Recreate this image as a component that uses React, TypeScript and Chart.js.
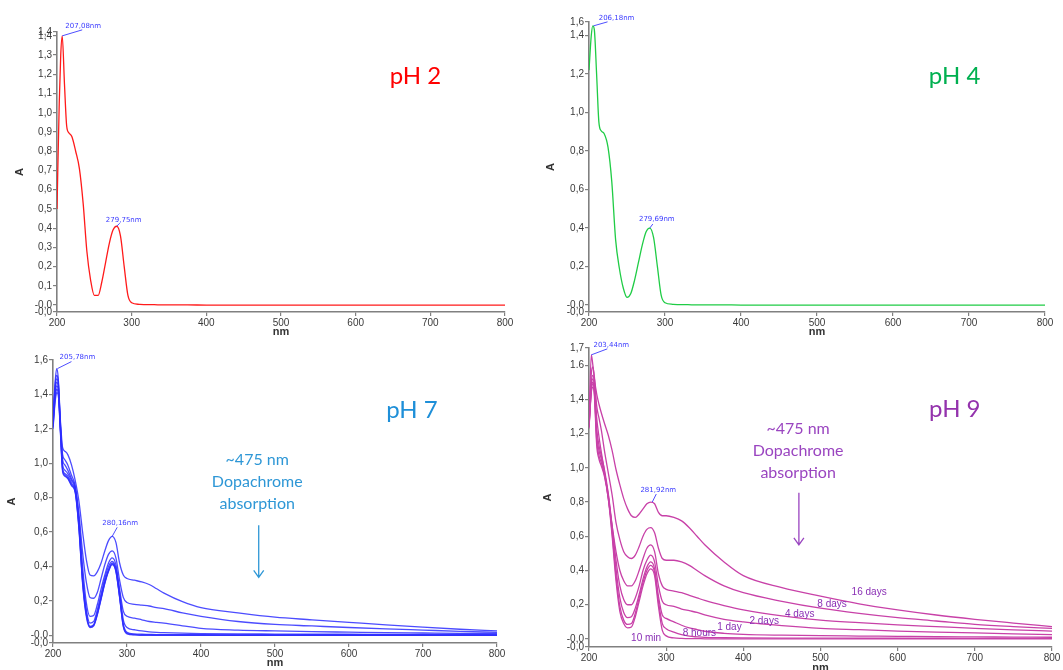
import React, { useEffect, useRef } from 'react';
import { Chart, registerables } from 'chart.js';

Chart.register(...registerables);

// ---------- DATA ----------
const WAVELENGTHS = [200, 203, 205, 207, 210, 213, 216, 220, 225, 230, 235, 240, 245, 250, 255, 260, 265, 270, 275, 280, 285, 290, 295, 300, 310, 320, 330, 340, 350, 375, 400, 450, 500, 550, 600, 650, 700, 750, 800];
const X_TICKS = [200, 300, 400, 500, 600, 700, 800];

const PH2_A = [0.50, 1.05, 1.30, 1.40, 1.15, 0.93, 0.895, 0.875, 0.80, 0.71, 0.53, 0.28, 0.13, 0.05, 0.05, 0.12, 0.22, 0.32, 0.39, 0.41, 0.36, 0.20, 0.05, 0.012, 0.004, 0.002, 0.002, 0.001, 0.001, 0.001, 0, 0, 0, 0, 0, 0, 0, 0, 0];
const PH4_A = [1.22, 1.40, 1.45, 1.43, 1.20, 0.95, 0.905, 0.89, 0.82, 0.64, 0.34, 0.19, 0.09, 0.04, 0.06, 0.13, 0.22, 0.31, 0.38, 0.40, 0.35, 0.20, 0.05, 0.012, 0.004, 0.002, 0.002, 0.001, 0.001, 0.001, 0, 0, 0, 0, 0, 0, 0, 0, 0];

const PH7_1 = [1.20, 1.36, 1.41, 1.40, 1.18, 0.95, 0.925, 0.91, 0.87, 0.83, 0.62, 0.30, 0.11, 0.045, 0.055, 0.12, 0.21, 0.30, 0.37, 0.41, 0.37, 0.22, 0.05, 0.008, 0.002, 0, 0, 0, 0, 0, 0, 0, 0, 0, 0, 0, 0, 0, 0];
const PH7_2 = [1.21, 1.38, 1.43, 1.41, 1.19, 0.96, 0.93, 0.915, 0.875, 0.835, 0.63, 0.31, 0.12, 0.048, 0.058, 0.125, 0.215, 0.305, 0.375, 0.415, 0.375, 0.225, 0.055, 0.012, 0.004, 0.002, 0.002, 0.001, 0.001, 0.001, 0.001, 0, 0, 0, 0, 0, 0, 0, 0];
const PH7_3 = [1.22, 1.40, 1.45, 1.43, 1.20, 0.97, 0.94, 0.925, 0.885, 0.84, 0.64, 0.32, 0.13, 0.052, 0.062, 0.13, 0.22, 0.31, 0.38, 0.42, 0.38, 0.23, 0.065, 0.018, 0.008, 0.006, 0.005, 0.004, 0.004, 0.003, 0.003, 0.002, 0.002, 0.002, 0.002, 0.001, 0.001, 0.001, 0.001];
const PH7_4 = [1.23, 1.42, 1.47, 1.45, 1.21, 0.99, 0.96, 0.94, 0.90, 0.85, 0.66, 0.35, 0.15, 0.07, 0.08, 0.15, 0.24, 0.33, 0.40, 0.43, 0.39, 0.25, 0.09, 0.045, 0.032, 0.025, 0.02, 0.017, 0.015, 0.012, 0.01, 0.008, 0.007, 0.006, 0.006, 0.005, 0.005, 0.005, 0.005];
const PH7_5 = [1.24, 1.44, 1.49, 1.47, 1.22, 1.02, 0.99, 0.96, 0.91, 0.86, 0.68, 0.40, 0.19, 0.11, 0.115, 0.18, 0.27, 0.35, 0.42, 0.45, 0.41, 0.27, 0.14, 0.11, 0.10, 0.09, 0.08, 0.075, 0.07, 0.055, 0.04, 0.03, 0.025, 0.021, 0.018, 0.015, 0.013, 0.011, 0.01];
const PH7_6 = [1.25, 1.46, 1.51, 1.48, 1.23, 1.05, 1.02, 0.99, 0.93, 0.87, 0.71, 0.48, 0.31, 0.22, 0.215, 0.25, 0.33, 0.41, 0.47, 0.49, 0.45, 0.32, 0.22, 0.19, 0.18, 0.175, 0.17, 0.16, 0.155, 0.13, 0.11, 0.08, 0.063, 0.054, 0.045, 0.037, 0.03, 0.023, 0.017];
const PH7_7 = [1.26, 1.48, 1.55, 1.50, 1.25, 1.09, 1.07, 1.05, 0.99, 0.90, 0.78, 0.60, 0.44, 0.35, 0.345, 0.37, 0.42, 0.49, 0.55, 0.575, 0.54, 0.42, 0.35, 0.33, 0.32, 0.31, 0.295, 0.27, 0.245, 0.195, 0.16, 0.13, 0.105, 0.09, 0.075, 0.06, 0.047, 0.035, 0.025];

const PH9_10MIN = [1.23, 1.44, 1.47, 1.42, 1.13, 1.05, 1.01, 0.95, 0.82, 0.60, 0.34, 0.16, 0.09, 0.065, 0.07, 0.13, 0.22, 0.31, 0.38, 0.41, 0.37, 0.19, 0.05, 0.018, 0.006, 0.003, 0.002, 0.002, 0.001, 0.001, 0.001, 0, 0, 0, 0, 0, 0, 0, 0];
const PH9_8H = [1.24, 1.45, 1.49, 1.44, 1.16, 1.07, 1.03, 0.96, 0.83, 0.62, 0.37, 0.19, 0.11, 0.085, 0.09, 0.15, 0.24, 0.33, 0.40, 0.43, 0.39, 0.22, 0.09, 0.06, 0.04, 0.025, 0.016, 0.012, 0.009, 0.007, 0.006, 0.005, 0.005, 0.004, 0.004, 0.003, 0.003, 0.003, 0.003];
const PH9_1D = [1.24, 1.46, 1.50, 1.45, 1.19, 1.10, 1.05, 0.97, 0.84, 0.64, 0.41, 0.24, 0.155, 0.125, 0.13, 0.18, 0.26, 0.35, 0.42, 0.45, 0.41, 0.25, 0.14, 0.12, 0.10, 0.08, 0.065, 0.055, 0.045, 0.033, 0.027, 0.022, 0.019, 0.017, 0.015, 0.013, 0.012, 0.011, 0.01];
const PH9_2D = [1.25, 1.48, 1.52, 1.47, 1.23, 1.13, 1.07, 0.99, 0.85, 0.66, 0.46, 0.31, 0.23, 0.20, 0.20, 0.24, 0.31, 0.40, 0.46, 0.49, 0.45, 0.31, 0.22, 0.20, 0.19, 0.175, 0.165, 0.155, 0.14, 0.115, 0.10, 0.078, 0.062, 0.054, 0.046, 0.04, 0.035, 0.03, 0.025];
const PH9_4D = [1.25, 1.50, 1.54, 1.49, 1.29, 1.18, 1.09, 0.98, 0.82, 0.66, 0.51, 0.40, 0.34, 0.31, 0.31, 0.34, 0.40, 0.47, 0.53, 0.55, 0.51, 0.38, 0.31, 0.29, 0.28, 0.27, 0.255, 0.24, 0.225, 0.195, 0.17, 0.135, 0.11, 0.095, 0.082, 0.072, 0.062, 0.053, 0.046];
const PH9_8D = [1.26, 1.55, 1.59, 1.53, 1.36, 1.29, 1.22, 1.10, 0.97, 0.84, 0.68, 0.58, 0.51, 0.48, 0.47, 0.49, 0.54, 0.60, 0.64, 0.65, 0.62, 0.53, 0.47, 0.46, 0.46, 0.45, 0.43, 0.40, 0.37, 0.31, 0.27, 0.22, 0.18, 0.15, 0.125, 0.105, 0.085, 0.072, 0.062];
const PH9_16D = [1.26, 1.66, 1.60, 1.52, 1.43, 1.37, 1.32, 1.26, 1.19, 1.10, 0.99, 0.90, 0.82, 0.76, 0.72, 0.71, 0.73, 0.76, 0.79, 0.80, 0.79, 0.74, 0.72, 0.72, 0.71, 0.69, 0.65, 0.60, 0.55, 0.45, 0.37, 0.30, 0.25, 0.205, 0.17, 0.14, 0.115, 0.093, 0.072];
const PH9_LABELS = ['10 min', '8 hours', '1 day', '2 days', '4 days', '8 days', '16 days'];

const PH2_Y_TICKS = [-0.036, 0, 0.1, 0.2, 0.3, 0.4, 0.5, 0.6, 0.7, 0.8, 0.9, 1.0, 1.1, 1.2, 1.3, 1.4, 1.42];
const PH2_Y_LABELS = ['-0,0', '-0,0', '0,1', '0,2', '0,3', '0,4', '0,5', '0,6', '0,7', '0,8', '0,9', '1,0', '1,1', '1,2', '1,3', '1,4', '1,4'];
const PH4_Y_TICKS = [-0.036, 0, 0.2, 0.4, 0.6, 0.8, 1.0, 1.2, 1.4, 1.47];
const PH4_Y_LABELS = ['-0,0', '-0,0', '0,2', '0,4', '0,6', '0,8', '1,0', '1,2', '1,4', '1,6'];
const PH7_Y_TICKS = [-0.045, 0, 0.2, 0.4, 0.6, 0.8, 1.0, 1.2, 1.4, 1.6];
const PH7_Y_LABELS = ['-0,0', '-0,0', '0,2', '0,4', '0,6', '0,8', '1,0', '1,2', '1,4', '1,6'];
const PH9_Y_TICKS = [-0.047, 0, 0.2, 0.4, 0.6, 0.8, 1.0, 1.2, 1.4, 1.6, 1.7];
const PH9_Y_LABELS = ['-0,0', '-0,0', '0,2', '0,4', '0,6', '0,8', '1,0', '1,2', '1,4', '1.6', '1,7'];

// ---------- STYLE / LAYOUT ----------
const PEAK_COLOR = '#3a3aff';
const AXIS_COLOR = '#808080';
const TICK_COLOR = '#3a3a3a';

type Peak = { nm: number; a: number; text: string; tdx: number; tdy: number; ldx: number; ldy: number };
type Note = { nm: number; a: number; lines: string[]; color: string; arrowNm: number; arrowFrom: number; arrowTo: number };
type CurveLabel = { nm: number; a: number; text: string };
type PanelCfg = {
  key: string;
  box: { left: number; top: number; width: number; height: number };
  plot: { left: number; top: number; right: number; bottom: number };
  yMin: number; yMax: number; yTicks: number[]; yLabels: string[];
  series: number[][]; color: string;
  title: string; titleColor: string; titleNm: number; titleA: number;
  peaks: Peak[];
  yTitlePad: number; xTitlePad: number;
  note?: Note;
  curveLabels?: CurveLabel[];
  curveLabelColor?: string;
};

const PANELS: PanelCfg[] = [
  {
    key: 'ph2',
    box: { left: 0, top: 0, width: 525, height: 340 },
    plot: { left: 57, top: 32, right: 505, bottom: 312 },
    yMin: -0.036, yMax: 1.42, yTicks: PH2_Y_TICKS, yLabels: PH2_Y_LABELS,
    series: [PH2_A], color: '#ff1a1a',
    title: 'pH 2', titleColor: '#ff0000', titleNm: 680, titleA: 1.19,
    peaks: [
      { nm: 207, a: 1.40, text: '207,08nm', tdx: 21, tdy: -10, ldx: 20, ldy: -6 },
      { nm: 280, a: 0.41, text: '279,75nm', tdx: 7, tdy: -6, ldx: 3, ldy: -3 },
    ],
    yTitlePad: 13.4, xTitlePad: 1.2,
  },
  {
    key: 'ph4',
    box: { left: 540, top: 0, width: 523, height: 340 },
    plot: { left: 589, top: 22, right: 1045, bottom: 312 },
    yMin: -0.036, yMax: 1.47, yTicks: PH4_Y_TICKS, yLabels: PH4_Y_LABELS,
    series: [PH4_A], color: '#1fcc45',
    title: 'pH 4', titleColor: '#00b050', titleNm: 681, titleA: 1.19,
    peaks: [
      { nm: 206, a: 1.45, text: '206,18nm', tdx: 23, tdy: -8, ldx: 14, ldy: -4 },
      { nm: 280, a: 0.40, text: '279,69nm', tdx: 7, tdy: -9, ldx: 3, ldy: -4 },
    ],
    yTitlePad: 4.4, xTitlePad: 1.2,
  },
  {
    key: 'ph7',
    box: { left: 0, top: 335, width: 520, height: 335 },
    plot: { left: 53, top: 360, right: 497, bottom: 643 },
    yMin: -0.045, yMax: 1.6, yTicks: PH7_Y_TICKS, yLabels: PH7_Y_LABELS,
    series: [PH7_1, PH7_2, PH7_3, PH7_4, PH7_5, PH7_6, PH7_7], color: 'rgba(45,45,255,0.85)',
    title: 'pH 7', titleColor: '#1e8fd8', titleNm: 685, titleA: 1.31,
    peaks: [
      { nm: 206, a: 1.55, text: '205,78nm', tdx: 20, tdy: -11, ldx: 14, ldy: -7 },
      { nm: 280, a: 0.575, text: '280,16nm', tdx: 8, tdy: -13, ldx: 5, ldy: -9 },
    ],
    yTitlePad: 5.4, xTitlePad: 0.4,
    note: { nm: 476, a: 1.017, lines: ['~475 nm', 'Dopachrome', 'absorption'], color: '#2e97d6', arrowNm: 478, arrowFrom: 0.64, arrowTo: 0.337 },
  },
  {
    key: 'ph9',
    box: { left: 540, top: 335, width: 523, height: 335 },
    plot: { left: 589, top: 348, right: 1052, bottom: 647 },
    yMin: -0.047, yMax: 1.70, yTicks: PH9_Y_TICKS, yLabels: PH9_Y_LABELS,
    series: [PH9_10MIN, PH9_8H, PH9_1D, PH9_2D, PH9_4D, PH9_8D, PH9_16D], color: 'rgb(200,65,168)',
    title: 'pH 9', titleColor: '#9433ad', titleNm: 674, titleA: 1.34,
    peaks: [
      { nm: 203, a: 1.66, text: '203,44nm', tdx: 20, tdy: -10, ldx: 16, ldy: -6 },
      { nm: 282, a: 0.80, text: '281,92nm', tdx: 6, tdy: -12, ldx: 4, ldy: -8 },
    ],
    yTitlePad: 1.4, xTitlePad: -4.6,
    note: { nm: 471, a: 1.228, lines: ['~475 nm', 'Dopachrome', 'absorption'], color: '#9a45c0', arrowNm: 472, arrowFrom: 0.854, arrowTo: 0.55 },
    curveLabels: [
      { nm: 274, a: 0.006, text: PH9_LABELS[0] },
      { nm: 343, a: 0.035, text: PH9_LABELS[1] },
      { nm: 382, a: 0.07, text: PH9_LABELS[2] },
      { nm: 427, a: 0.105, text: PH9_LABELS[3] },
      { nm: 473, a: 0.146, text: PH9_LABELS[4] },
      { nm: 515, a: 0.20, text: PH9_LABELS[5] },
      { nm: 563, a: 0.27, text: PH9_LABELS[6] },
    ],
    curveLabelColor: '#8a2fb5',
  },
];

function makeOverlay(p: PanelCfg) {
  return {
    id: 'overlay_' + p.key,
    afterDatasetsDraw(chart: any) {
      const ctx: CanvasRenderingContext2D = chart.ctx;
      const xs = chart.scales.x;
      const ys = chart.scales.y;
      ctx.save();
      // peak labels
      ctx.font = '7px "DejaVu Sans"';
      ctx.fillStyle = PEAK_COLOR;
      ctx.strokeStyle = PEAK_COLOR;
      ctx.lineWidth = 0.9;
      ctx.textAlign = 'center';
      ctx.textBaseline = 'middle';
      for (const pk of p.peaks) {
        const px = xs.getPixelForValue(pk.nm);
        const py = ys.getPixelForValue(pk.a);
        ctx.beginPath();
        ctx.moveTo(px, py);
        ctx.lineTo(px + pk.ldx, py + pk.ldy);
        ctx.stroke();
        ctx.fillText(pk.text, px + pk.tdx, py + pk.tdy);
      }
      // panel title
      ctx.font = '24px Lato';
      ctx.fillStyle = p.titleColor;
      ctx.fillText(p.title, xs.getPixelForValue(p.titleNm), ys.getPixelForValue(p.titleA));
      // note
      if (p.note) {
        const n = p.note;
        ctx.font = '16px Lato';
        ctx.fillStyle = n.color;
        const nx = xs.getPixelForValue(n.nm);
        const ny = ys.getPixelForValue(n.a);
        n.lines.forEach((t, i) => ctx.fillText(t, nx, ny + i * 22));
        const ax = xs.getPixelForValue(n.arrowNm);
        const a1 = ys.getPixelForValue(n.arrowFrom);
        const a2 = ys.getPixelForValue(n.arrowTo);
        ctx.strokeStyle = n.color;
        ctx.lineWidth = 1.3;
        ctx.beginPath();
        ctx.moveTo(ax, a1);
        ctx.lineTo(ax, a2);
        ctx.moveTo(ax - 5, a2 - 7);
        ctx.lineTo(ax, a2);
        ctx.lineTo(ax + 5, a2 - 7);
        ctx.stroke();
      }
      if (p.curveLabels) {
        ctx.font = '10px "Liberation Sans"';
        ctx.fillStyle = p.curveLabelColor || '#000';
        for (const c of p.curveLabels) {
          ctx.fillText(c.text, xs.getPixelForValue(c.nm), ys.getPixelForValue(c.a));
        }
      }
      ctx.restore();
    },
  };
}

function Panel({ p }: { p: PanelCfg }) {
  const ref = useRef<HTMLCanvasElement | null>(null);
  useEffect(() => {
    if (!ref.current) return;
    const yWidth = p.plot.left - p.box.left;
    const xHeight = p.box.top + p.box.height - p.plot.bottom;
    const tickFont = { family: '"Liberation Sans", Arial, sans-serif', size: 10 };
    const grid = { drawOnChartArea: false, drawTicks: true, tickLength: 4, color: AXIS_COLOR, lineWidth: 1.2 };
    const border = { display: true, color: AXIS_COLOR, width: 1.6 };
    const chart = new Chart(ref.current, {
      type: 'line',
      data: {
        datasets: p.series.map((vals) => ({
          data: WAVELENGTHS.map((w, i) => ({ x: w, y: vals[i] })),
          borderColor: p.color,
          backgroundColor: p.color,
          borderWidth: 1.3,
          pointRadius: 0,
          fill: false,
          cubicInterpolationMode: 'monotone' as const,
        })),
      },
      options: {
        animation: false,
        responsive: false,
        devicePixelRatio: 1,
        layout: {
          padding: {
            top: p.plot.top - p.box.top,
            right: p.box.left + p.box.width - p.plot.right,
            left: 0,
            bottom: 0,
          },
        },
        plugins: { legend: { display: false }, tooltip: { enabled: false } },
        scales: {
          x: {
            type: 'linear',
            min: 200,
            max: 800,
            afterBuildTicks: (s: any) => { s.ticks = X_TICKS.map((v) => ({ value: v })); },
            afterFit: (s: any) => { s.height = xHeight; },
            ticks: { autoSkip: false, maxRotation: 0, padding: 1, font: tickFont, color: TICK_COLOR, callback: (v: any) => String(v) },
            grid,
            border,
            title: { display: true, text: 'nm', font: { family: '"Liberation Sans", Arial, sans-serif', size: 11, weight: 'bold' }, color: '#333', padding: { top: 0, bottom: p.xTitlePad } },
          },
          y: {
            type: 'linear',
            min: p.yMin,
            max: p.yMax,
            afterBuildTicks: (s: any) => { s.ticks = p.yTicks.map((v) => ({ value: v })); },
            afterFit: (s: any) => { s.width = yWidth; },
            ticks: { autoSkip: false, padding: 1, font: tickFont, color: TICK_COLOR, callback: (_v: any, i: number) => p.yLabels[i] },
            grid,
            border,
            title: { display: true, text: 'A', font: { family: '"Liberation Sans", Arial, sans-serif', size: 11, weight: 'bold' }, color: '#333', padding: { top: p.yTitlePad, bottom: 0 } },
          },
        },
      } as any,
      plugins: [makeOverlay(p)],
    });
    return () => chart.destroy();
  }, [p]);
  return (
    <canvas
      ref={ref}
      width={p.box.width}
      height={p.box.height}
      style={{ position: 'absolute', left: p.box.left, top: p.box.top, width: p.box.width, height: p.box.height }}
    />
  );
}

export default function App() {
  return (
    <div style={{ position: 'absolute', left: 0, top: 0, width: 1063, height: 670, background: '#fff', overflow: 'hidden' }}>
      {PANELS.map((p) => (
        <Panel key={p.key} p={p} />
      ))}
    </div>
  );
}
